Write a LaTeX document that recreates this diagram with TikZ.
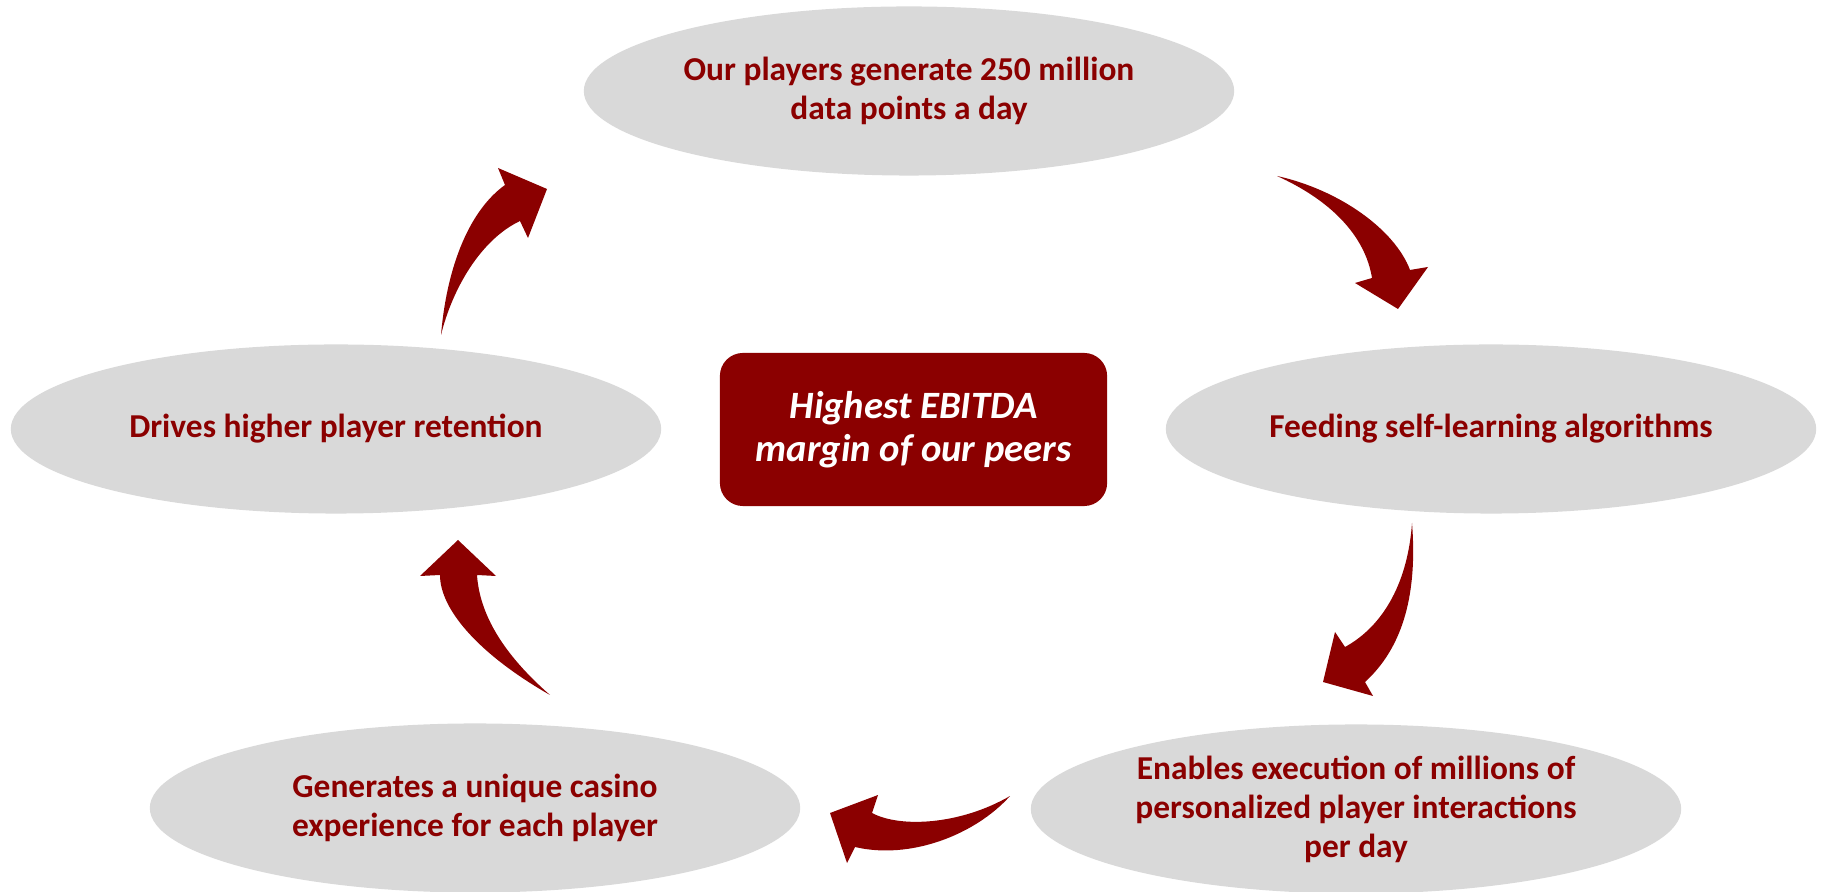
\documentclass[tikz,border=0pt]{standalone}
\usepackage{fontspec}
\setmainfont{Carlito}
\usetikzlibrary{shapes.geometric,positioning}
\definecolor{casinored}{HTML}{8B0000}
\definecolor{ovalgray}{HTML}{D9D9D9}

\begin{document}
\begin{tikzpicture}[x=0.01cm,y=-0.01cm,
    oval/.style={ellipse,fill=ovalgray,minimum width=6.5cm,minimum height=1.69cm,
      inner sep=0pt,align=center,text=casinored,
      font=\fontsize{9.5}{11.1}\selectfont\bfseries},
    hub/.style={rectangle,rounded corners=0.23cm,fill=casinored,minimum width=3.87cm,
      minimum height=1.53cm,align=center,text=white,
      font=\fontsize{11}{12.4}\selectfont\bfseries\itshape},
    curlarrow/.style={fill=casinored,draw=none}]
  \useasboundingbox (0,0) rectangle (1825,892);

  % ====== Cycle ovals ======
  \node[oval] (data) at (909,91) {Our players generate 250 million\\data points a day};
  \node[oval] (algo) at (1491,429) {Feeding self-learning algorithms};
  \node[oval] (exec) at (1356,809) {Enables execution of millions of\\personalized player interactions\\per day};
  \node[oval] (casino) at (475,808) {Generates a unique casino\\experience for each player};
  \node[oval] (retain) at (336,429) {Drives higher player retention};

  % ====== Centre box ======
  \node[hub] (ebitda) at (913.5,429.5) {Highest EBITDA\\margin of our peers};

  % ====== Curled arrows (clockwise) ======
  % retention -> data
  \fill[curlarrow] (441,335) .. controls (447,265) and (470,210) .. (505,185)
    -- (498,168) -- (547,189) -- (528,238) -- (520,221)
    .. controls (480,240) and (452,290) .. (441,335) -- cycle;
  % data -> algorithms
  \fill[curlarrow] (1277,176) .. controls (1340,190) and (1395,230) .. (1410,270)
    -- (1428,267) -- (1398,309) -- (1355,283) -- (1372,278)
    .. controls (1365,235) and (1330,200) .. (1277,176) -- cycle;
  % algorithms -> execution
  \fill[curlarrow] (1412,523) .. controls (1418,600) and (1400,650) .. (1365,682)
    -- (1373,696) -- (1323,682) -- (1335,632) -- (1345,647)
    .. controls (1385,625) and (1408,580) .. (1412,523) -- cycle;
  % execution -> casino
  \fill[curlarrow] (1010,796) .. controls (960,825) and (900,828) .. (872,813)
    -- (878,795) -- (830,813) -- (847,863) -- (855,847)
    .. controls (910,860) and (975,835) .. (1010,796) -- cycle;
  % casino -> retention
  \fill[curlarrow] (550,695) .. controls (480,655) and (440,610) .. (440,575)
    -- (420,576) -- (458,540) -- (496,576) -- (477,575)
    .. controls (480,620) and (510,660) .. (550,695) -- cycle;
\end{tikzpicture}
\end{document}
